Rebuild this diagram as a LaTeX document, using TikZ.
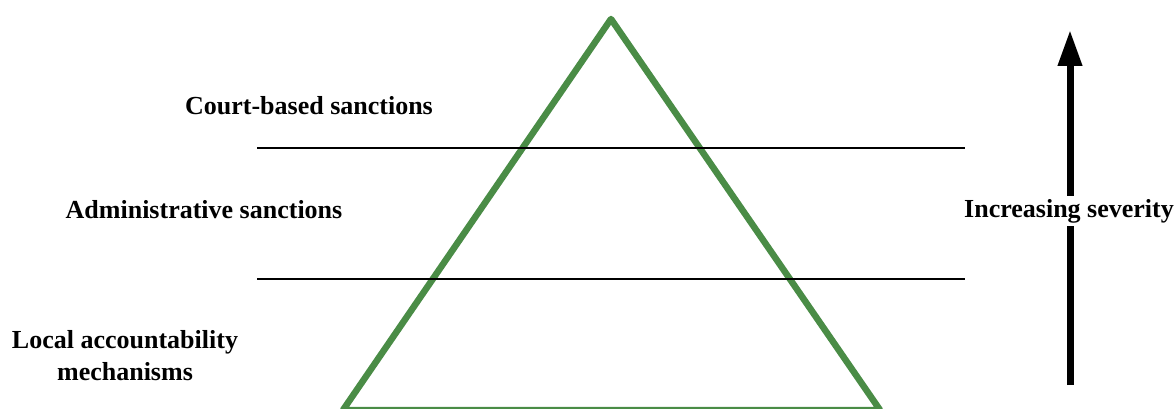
\documentclass[tikz,border=0pt]{standalone}
\usepackage{fontspec}
\setmainfont{Liberation Serif}
\usetikzlibrary{arrows.meta}
\definecolor{tri}{RGB}{74,140,70}
\begin{document}
\begin{tikzpicture}[x=1pt,y=-1pt,
  lbl/.style={font=\fontsize{26}{32}\selectfont\bfseries, inner sep=0pt, align=center},
  tier/.style={line width=2pt, black},
  pyr/.style={draw=tri, line width=6.5pt, line join=round}]
\useasboundingbox (0,0) rectangle (1176,409);
% pyramid
\coordinate (apex) at (611,19);
\coordinate (bl) at (343,410);
\coordinate (br) at (880,410);
\draw[pyr] (apex) -- (br) -- (bl) -- cycle;
% tier lines
\coordinate (l1a) at (257,148);
\coordinate (l1b) at (965,148);
\coordinate (l2a) at (257,279);
\coordinate (l2b) at (965,279);
\draw[tier] (l1a) -- (l1b);
\draw[tier] (l2a) -- (l2b);
% labels
\node[lbl] (court) at (309,106) {Court-based sanctions};
\node[lbl] (admin) at (204,210) {Administrative sanctions};
\node[lbl] (local) at (125,356) {Local accountability\\mechanisms};
% arrow
\coordinate (abot) at (1070,385);
\coordinate (atop) at (1070,30);
\draw[line width=7pt, -{Triangle[length=36pt,width=23pt]}] (abot) -- (atop);
\node[lbl, fill=white, inner sep=3pt] (sev) at (1069,211) {Increasing severity};
\end{tikzpicture}
\end{document}
